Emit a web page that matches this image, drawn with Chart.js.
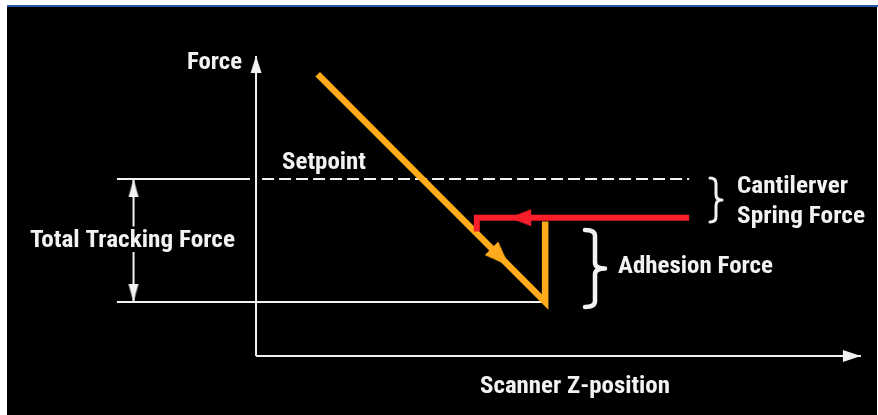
<!DOCTYPE html>
<html><head><meta charset="utf-8">
<script src="https://cdn.jsdelivr.net/npm/chart.js@4.4.1/dist/chart.umd.min.js"></script>
<style>
html,body{margin:0;padding:0;background:#fff;width:878px;height:415px;overflow:hidden;}
#rule{position:absolute;left:7px;top:5px;width:871px;height:2px;background:#2b5ba6;}
#frame{position:absolute;left:7px;top:7px;width:870px;height:408px;background:#000;}
#c{position:absolute;left:0;top:0;}
</style></head><body>
<div id="rule"></div><div id="frame"></div>
<canvas id="c" width="878" height="415"></canvas>
<script>
// ---- data (Z-position on x, Force on y, arbitrary units) ----
const zAxis = [0, 100];
const forceAxis = [0, 100];
const setpointForce = 59;
const baseForce = 18;
const setpointLeftZ = [-23, -1];
const setpointDashZ = [1, 71.6];
const baseLineZ = [-23, 47.3];
const trackingZ = -20.25;
const trackingUpperF = [59, 43.2];
const trackingLowerF = [34.7, 18];
const approachZ = [10.2, 47.8, 47.8];
const approachF = [93.9, 18, 44.8];
const retractZ = [71.6, 36.5, 36.5];
const retractF = [46.1, 46.1, 41.5];
const arrowZ = [0, 100, -20.25, -20.25, 41.85, 41.85];
const arrowF = [100, 0, 59, 18, 30, 46.1];
const labels = ["Force", "Setpoint", "Total Tracking Force", "Cantilerver", "Spring Force", "Adhesion Force", "Scanner Z-position"];

// ---- styles / layout ----
const WHITE = '#f2f2f2', ORANGE = '#ffab1c', RED = '#fa1e2b';
const arrowStyle = [ // [length, width, color, rotation]
  [17, 11, WHITE, 0], [18, 12, WHITE, 90], [18, 10, WHITE, 0], [18, 10, WHITE, 180],
  [25, 19, ORANGE, 135], [22, 17, RED, 270]
];
const labelLayout = [ // [left, baseline, width, size]
  [187, 69, 55, 24], [282, 169, 84, 23], [30, 247, 205, 23], [737, 193, 111, 23],
  [737, 223, 128, 23], [618, 273, 155, 23], [480, 393, 190, 23]
];
const braces = [ // [left, top, bottom, width, lineWidth]
  [710, 178, 222, 12, 3], [585, 230, 307, 20, 4.5]
];

function pts(xs, ys) {
  const n = Math.max(Array.isArray(xs) ? xs.length : 1, Array.isArray(ys) ? ys.length : 1);
  const out = [];
  for (let i = 0; i < n; i++) out.push({x: Array.isArray(xs) ? xs[i] : xs, y: Array.isArray(ys) ? ys[i] : ys});
  return out;
}
function arrowImg(len, wid, color) {
  const s = Math.ceil(len) * 2 + 2;
  const c = document.createElement('canvas'); c.width = s; c.height = s;
  const g = c.getContext('2d'); const m = s / 2;
  g.fillStyle = color; g.beginPath();
  g.moveTo(m, m); g.lineTo(m + wid / 2, m + len); g.lineTo(m - wid / 2, m + len);
  g.closePath(); g.fill();
  return c;
}
function line(data, color, width, extra) {
  return Object.assign({type: 'line', data, borderColor: color, borderWidth: width, pointRadius: 0,
    showLine: true, fill: false, tension: 0, borderCapStyle: 'butt', borderJoinStyle: 'miter'}, extra || {});
}

const textPlugin = {
  id: 'texts',
  afterDatasetsDraw(chart) {
    const ctx = chart.ctx;
    ctx.save();
    ctx.fillStyle = WHITE;
    ctx.textBaseline = 'alphabetic';
    labels.forEach((t, i) => {
      const [x, y, w, size] = labelLayout[i];
      ctx.font = `bold ${size}px "Liberation Sans Narrow", "Roboto Condensed", "DejaVu Sans Condensed", "Liberation Sans", sans-serif`;
      const m = ctx.measureText(t).width;
      ctx.save(); ctx.translate(x, y); ctx.scale(w / m, 1); ctx.fillText(t, 0, 0); ctx.restore();
    });
    ctx.strokeStyle = WHITE; ctx.lineCap = 'round'; ctx.lineJoin = 'round';
    braces.forEach(([a, y0, y1, w, lw]) => {
      const ym = (y0 + y1) / 2, q = Math.min(6, (y1 - y0) / 8), h = a + w * 0.5;
      ctx.lineWidth = lw; ctx.beginPath();
      ctx.moveTo(a, y0);
      ctx.quadraticCurveTo(h, y0, h, y0 + q);
      ctx.lineTo(h, ym - q);
      ctx.quadraticCurveTo(h, ym, a + w, ym);
      ctx.quadraticCurveTo(h, ym, h, ym + q);
      ctx.lineTo(h, y1 - q);
      ctx.quadraticCurveTo(h, y1, a, y1);
      ctx.stroke();
    });
    ctx.restore();
  }
};

const arrowImages = arrowStyle.map(s => arrowImg(s[0], s[1], s[2]));

new Chart(document.getElementById('c'), {
  type: 'scatter',
  data: {
    datasets: [
      {data: pts(arrowZ, arrowF), pointStyle: arrowImages, rotation: arrowStyle.map(s => s[3]),
       pointRadius: 5, showLine: false, backgroundColor: 'rgba(0,0,0,0)', borderColor: 'rgba(0,0,0,0)', borderWidth: 0},
      line(pts(retractZ, retractF), RED, 6),
      line(pts(approachZ, approachF), ORANGE, 6.5),
      line(pts(0, forceAxis), WHITE, 2),
      line(pts(zAxis, 0), WHITE, 2),
      line(pts(setpointLeftZ, setpointForce), WHITE, 2),
      line(pts(setpointDashZ, setpointForce), WHITE, 2, {borderDash: [12, 5]}),
      line(pts(baseLineZ, baseForce), WHITE, 2),
      line(pts(trackingZ, trackingUpperF), WHITE, 2),
      line(pts(trackingZ, trackingLowerF), WHITE, 2)
    ]
  },
  options: {
    responsive: false, animation: false, devicePixelRatio: 1,
    layout: {padding: 0},
    events: [],
    plugins: {legend: {display: false}, tooltip: {enabled: false}},
    scales: {
      x: {type: 'linear', min: -41.5, max: 102, display: false},
      y: {type: 'linear', min: -18, max: 117, display: false}
    }
  },
  plugins: [textPlugin]
});
</script>
</body></html>
